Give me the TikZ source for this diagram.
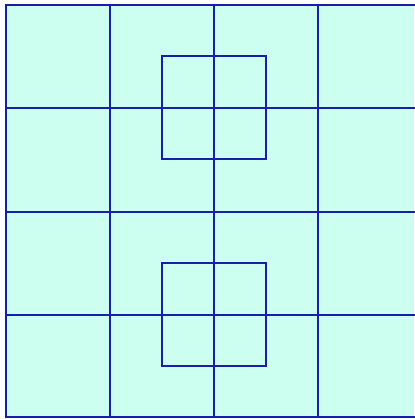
\documentclass[tikz,border=0pt]{standalone}
\usepackage{tikz}
\definecolor{cellfill}{RGB}{204,255,240}
\definecolor{gridblue}{RGB}{24,30,170}
\begin{document}
\begin{tikzpicture}[x=1pt,y=-1pt,
  gridline/.style={draw=gridblue,line width=2.4pt}]
\useasboundingbox (0,0) rectangle (414,419);
\fill[white] (0,0) rectangle (414,419);
\fill[cellfill] (6,5) rectangle (414,417);
% outer border (left, top, bottom)
\draw[gridline] (418,5) -- (6,5) -- (6,417) -- (418,417);
% vertical grid lines
\foreach \x in {110,214,318} \draw[gridline] (\x,5) -- (\x,417);
% horizontal grid lines
\foreach \y in {108,212,315} \draw[gridline] (6,\y) -- (418,\y);
% small squares
\draw[gridline] (162,56) rectangle (266,159);
\draw[gridline] (162,263) rectangle (266,366);
\end{tikzpicture}
\end{document}
